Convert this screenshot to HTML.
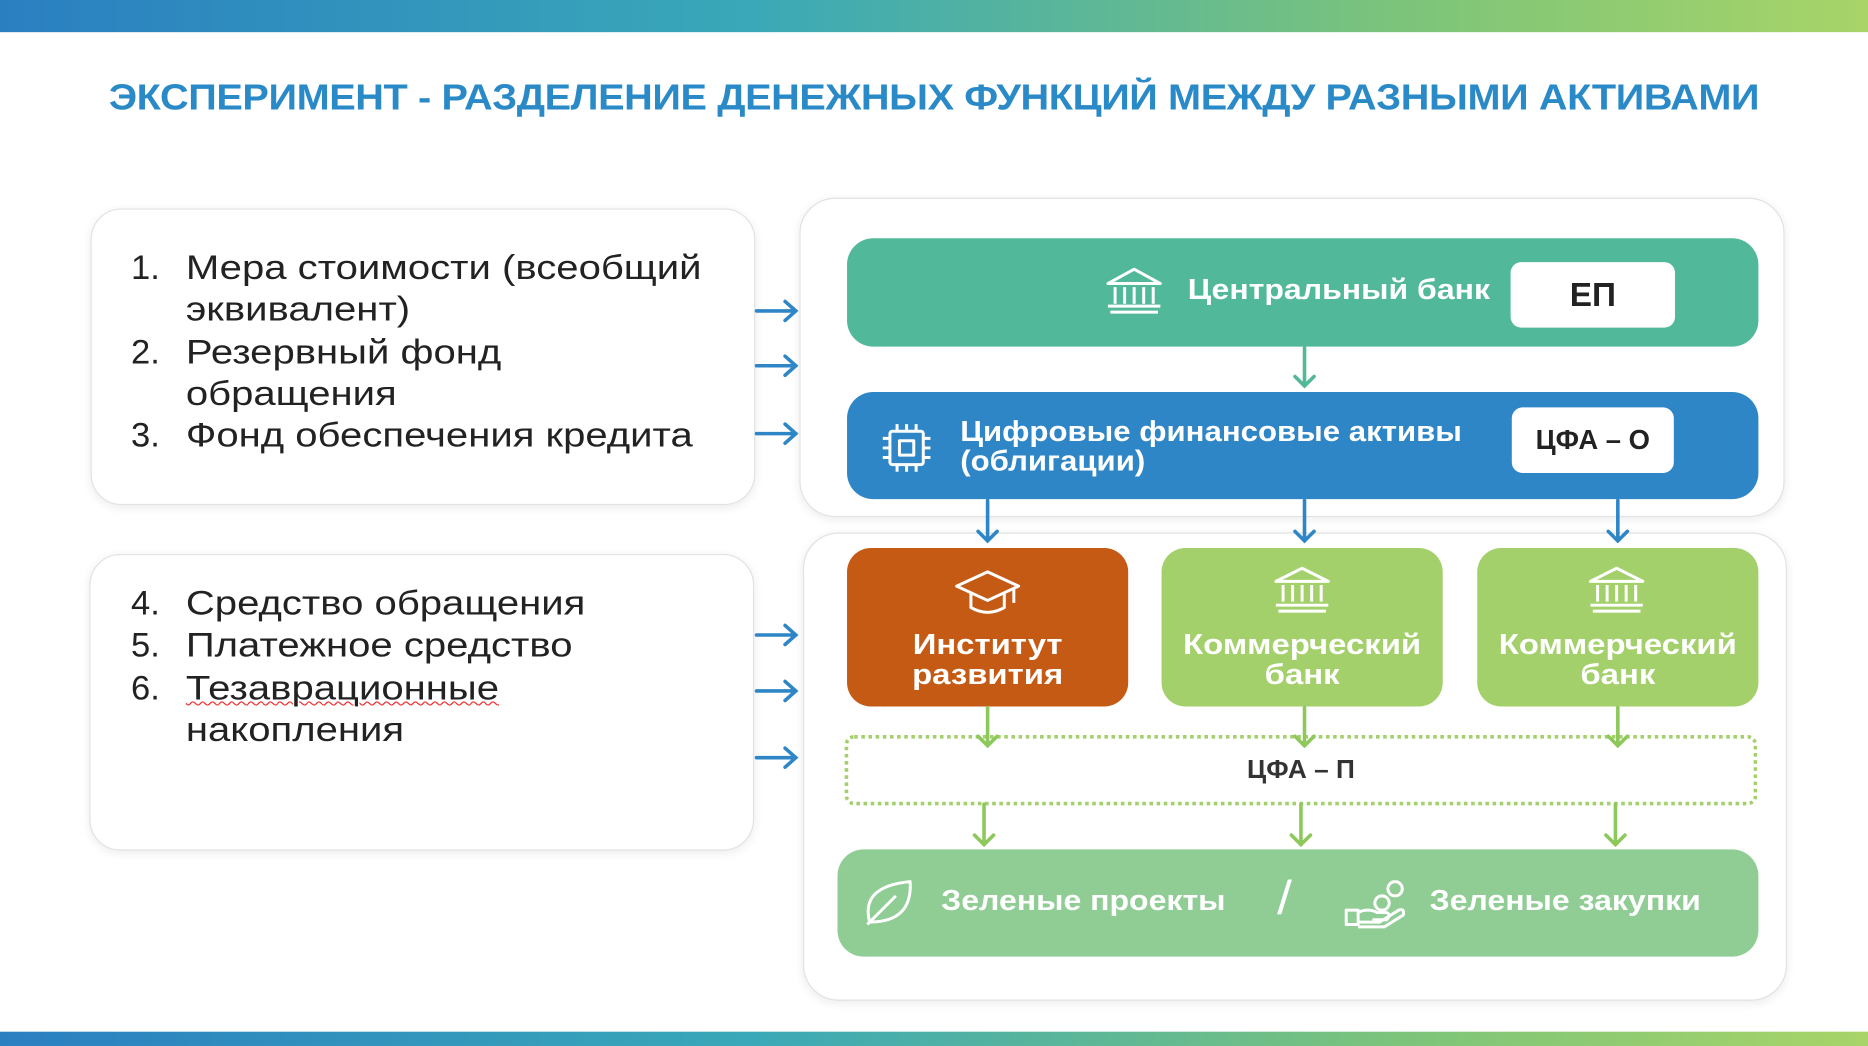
<!DOCTYPE html>
<html><head><meta charset="utf-8"><style>
html,body{margin:0;padding:0;width:1868px;height:1046px;overflow:hidden;background:#fff}
#w{position:absolute;left:0;top:0;width:1568px;height:878px;transform:scale(1.19133);transform-origin:0 0;font-family:"Liberation Sans",sans-serif}
.a{position:absolute}
.bar{background:linear-gradient(90deg,#2a7fc1,#3aa8b8 40%,#7cc47a 75%,#a8d468)}
.box{position:absolute;background:#fff;border:1px solid #e2e2e2;border-radius:26px;box-shadow:0 2px 8px rgba(0,0,0,0.08)}
.li{position:absolute;font-size:29px;color:#222;line-height:35px}
.li span{position:absolute;left:0}
.li div{position:absolute;left:46px;white-space:nowrap;transform:scaleX(1.16);transform-origin:0 0}
.wt{color:#fff;font-weight:bold;font-size:24px;position:absolute;white-space:nowrap;line-height:25px;transform:scaleX(1.12);transform-origin:0 0}
.wb{position:absolute;background:#fff;border-radius:9px;font-weight:bold;color:#222;display:flex;align-items:center;justify-content:center}
.ctr{text-align:center;transform:scaleX(1.15);transform-origin:50% 0}
</style></head><body><div id="w">
<div class="a bar" style="left:0;top:0;width:1568px;height:27px"></div>
<div class="a bar" style="left:0;top:866px;width:1568px;height:12px"></div>
<div class="a" style="left:0;top:66px;width:1568px;text-align:center;color:#2a8ac8;font-weight:bold;font-size:30px;letter-spacing:-0.3px;transform:scaleX(1.11);transform-origin:50% 0">ЭКСПЕРИМЕНТ - РАЗДЕЛЕНИЕ ДЕНЕЖНЫХ ФУНКЦИЙ МЕЖДУ РАЗНЫМИ АКТИВАМИ</div>

<div class="box" style="left:76px;top:175px;width:556px;height:247px"></div>
<div class="box" style="left:75px;top:465px;width:556px;height:247px"></div>
<div class="li" style="left:110px;top:208px"><span>1.</span><div>Мера стоимости (всеобщий<br>эквивалент)</div></div>
<div class="li" style="left:110px;top:279px"><span>2.</span><div>Резервный фонд<br>обращения</div></div>
<div class="li" style="left:110px;top:349px"><span>3.</span><div>Фонд обеспечения кредита</div></div>
<div class="li" style="left:110px;top:490px"><span>4.</span><div>Средство обращения</div></div>
<div class="li" style="left:110px;top:525px"><span>5.</span><div>Платежное средство</div></div>
<div class="li" style="left:110px;top:561px"><span>6.</span><div><u style="text-decoration:underline wavy #e33;text-decoration-thickness:1px">Тезаврационные</u><br>накопления</div></div>

<div class="box" style="left:671px;top:166px;width:825px;height:266px;border-radius:30px"></div>
<div class="box" style="left:674px;top:447px;width:824px;height:391px;border-radius:30px"></div>

<div class="a" style="left:711px;top:200px;width:765px;height:91px;background:#52b89a;border-radius:22px"></div>
<div class="wt" style="left:997px;top:231px">Центральный банк</div>
<div class="wb" style="left:1268px;top:220px;width:138px;height:55px;font-size:28px">ЕП</div>

<div class="a" style="left:711px;top:329px;width:765px;height:90px;background:#2e86c6;border-radius:22px"></div>
<div class="wt" style="left:806px;top:350px;transform:scaleX(1.09)">Цифровые финансовые активы<br>(облигации)</div>
<div class="wb" style="left:1269px;top:342px;width:136px;height:55px;font-size:23px">ЦФА – О</div>

<div class="a" style="left:711px;top:460px;width:236px;height:133px;background:#c45a14;border-radius:20px"></div>
<div class="a" style="left:975px;top:460px;width:236px;height:133px;background:#a3d06a;border-radius:20px"></div>
<div class="a" style="left:1240px;top:460px;width:236px;height:133px;background:#a3d06a;border-radius:20px"></div>
<div class="wt ctr" style="left:711px;width:236px;top:529px">Институт<br>развития</div>
<div class="wt ctr" style="left:975px;width:236px;top:529px">Коммерческий<br>банк</div>
<div class="wt ctr" style="left:1240px;width:236px;top:529px">Коммерческий<br>банк</div>

<div class="a" style="left:709px;top:617px;width:760px;height:53px;border:3px dotted #a3d06a;border-radius:8px"></div>
<div class="a" style="left:709px;width:766px;top:633px;font-weight:bold;font-size:22px;color:#333;text-align:center">ЦФА – П</div>

<div class="a" style="left:703px;top:713px;width:773px;height:90px;background:#8fcd95;border-radius:22px"></div>
<div class="wt" style="left:790px;top:744px">Зеленые проекты</div>
<div class="wt" style="left:1072px;top:732px;font-size:40px;font-weight:normal;line-height:44px">/</div>
<div class="wt" style="left:1200px;top:744px">Зеленые закупки</div>

<svg class="a" style="left:0;top:0" width="1568" height="878" viewBox="0 0 1568 878">
<g stroke="#2e86c6" stroke-width="3" fill="none" stroke-linecap="round">
<path d="M635 261H668M659 253l9 8-9 8"/>
<path d="M635 307H668M659 299l9 8-9 8"/>
<path d="M635 364H668M659 356l9 8-9 8"/>
<path d="M635 533H668M659 525l9 8-9 8"/>
<path d="M635 580H668M659 572l9 8-9 8"/>
<path d="M635 636H668M659 628l9 8-9 8"/>
<path d="M829 420V454M821 446l8 8 8-8"/>
<path d="M1095 420V454M1087 446l8 8 8-8"/>
<path d="M1358 420V454M1350 446l8 8 8-8"/>
</g>
<g stroke="#52b89a" stroke-width="3" fill="none" stroke-linecap="round"><path d="M1095 292V324M1087 316l8 8 8-8"/></g>
<g stroke="#8dc85a" stroke-width="3" fill="none" stroke-linecap="round">
<path d="M829 594V626M821 618l8 8 8-8"/>
<path d="M1095 594V626M1087 618l8 8 8-8"/>
<path d="M1358 594V626M1350 618l8 8 8-8"/>
<path d="M826 675V709M818 701l8 8 8-8"/>
<path d="M1092 675V709M1084 701l8 8 8-8"/>
<path d="M1356 675V709M1348 701l8 8 8-8"/>
</g>
<g stroke="#fff" stroke-width="2.5" fill="none" stroke-linejoin="round">
<path d="M930 238L952 226L974 238Z M932 262H972 M930 257H974 M936 241V255M944 241V255M952 241V255M960 241V255M968 241V255"/>
<rect x="747" y="362" width="28" height="28" rx="2"/><rect x="755" y="370" width="12" height="12"/>
<path d="M753 356v6M761 356v6M769 356v6M753 390v6M761 390v6M769 390v6M741 368h6M741 376h6M741 384h6M775 368h6M775 376h6M775 384h6"/>
<path d="M803 492L829 480L855 492L829 504Z M815 498V510Q829 518 843 510V498 M851 494V506"/>
<path d="M1071 488L1093 477L1115 488Z M1073 513H1113 M1071 508H1115 M1077 491V505M1085 491V505M1093 491V505M1101 491V505M1109 491V505"/>
<path d="M1335 488L1357 477L1379 488Z M1337 513H1377 M1335 508H1379 M1341 491V505M1349 491V505M1357 491V505M1365 491V505M1373 491V505"/>
<path d="M730 774Q722 744 764 740Q766 774 730 774Z M728 776L752 752"/>
<path d="M1130 764h10v12h-10z M1140 766q8-4 16 0h8q4 2 0 6h-12 M1140 774h18l16-10q5-2 4 4l-16 10h-22 M1160 752a6 6 0 1 0 .1 0M1171 740a6 6 0 1 0 .1 0"/>
</g>
</svg>
</div></body></html>
